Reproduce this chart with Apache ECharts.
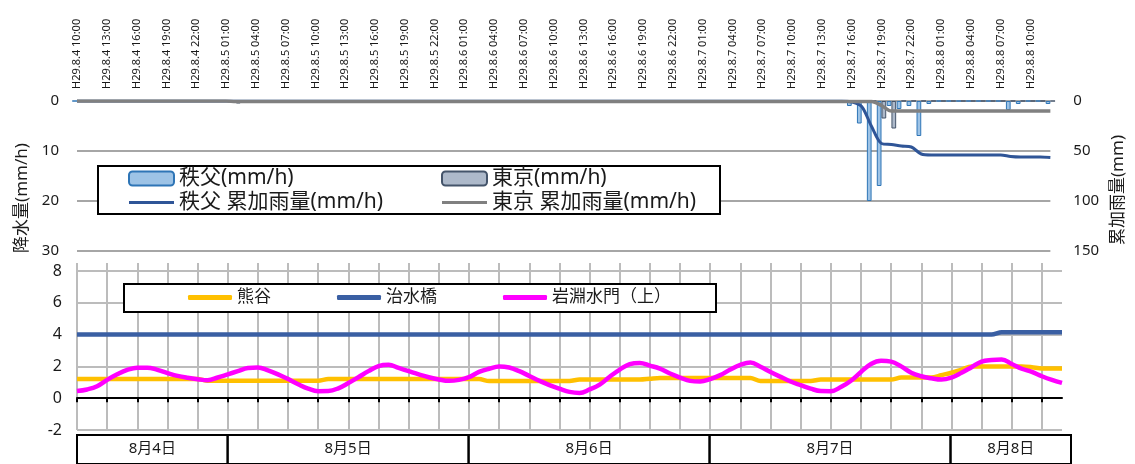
<!DOCTYPE html>
<html>
<head>
<meta charset="utf-8">
<script src="https://cdn.jsdelivr.net/npm/echarts@6/dist/echarts.min.js"></script>
<style>
  html, body { margin: 0; padding: 0; background: #fff; }
  #chart { width: 1135px; height: 464px; }
</style>
</head>
<body>
<div id="chart"></div>
<script>
// ── Categories: hourly, H29.8.4 10:00 → H29.8.8 12:00 ─────────────────
const startDay = 4, startHour = 10, hourCount = 99;
const hours = [];
for (let k = 0; k < hourCount; k++) {
  const t = startHour + k;
  const d = startDay + Math.floor(t / 24);
  hours.push('H29.8.' + d + ' ' + String(t % 24).padStart(2, '0') + ':00');
}

// date boxes under the water level chart (edges in hour index)
const dayLabels = ['8月4日', '8月5日', '8月6日', '8月7日', '8月8日'];
const dayEdges  = [0, 15, 39, 63, 87, 99];

// ── Rainfall (mm/h) ───────────────────────────────────────────────────
const chichibuRain = [
  0,0,0,0,0,0,0,0,0,0,
  0,0,0,0,0,0,0,0,0,0,
  0,0,0,0,0,0,0,0,0,0,
  0,0,0,0,0,0,0,0,0,0,
  0,0,0,0,0,0,0,0,0,0,
  0,0,0,0,0,0,0,0,0,0,
  0,0,0,0,0,0,0,0,0,0,
  0,0,0,0,0,0,0,0,1,4.5,
  20,17,1,1.6,1,7,0.6,0,0,0,
  0,0,0,0,1.8,0.6,0,0,0.6
];
const tokyoRain = [
  0,0,0,0,0,0,0,0,0,0,
  0,0,0,0,0,0,0.5,0,0,0,
  0,0,0,0,0,0,0,0,0,0,
  0,0,0,0,0,0,0,0,0,0,
  0,0,0,0,0,0,0,0,0,0,
  0,0,0,0,0,0,0,0,0,0,
  0,0,0,0,0,0,0,0,0,0,
  0,0,0,0,0,0,0,0,0,0,
  0,3.5,5.5,0,0,0,0,0,0,0,
  0,0,0,0,0,0,0,0,0
];
// cumulative rainfall (mm)
const chichibuCum = [
  0,0,0,0,0,0,0,0,0,0,
  0,0,0,0,0,0,0,0,0,0,
  0,0,0,0,0,0,0,0,0,0,
  0,0,0,0,0,0,0,0,0,0,
  0,0,0,0,0,0,0,0,0,0,
  0,0,0,0,0,0,0,0,0,0,
  0,0,0,0,0,0,0,0,0,0,
  0,0,0,0,0,0,0,0,1,5.5,
  25.5,42.5,43.5,45,46,53,54,54,54,54,
  54,54,54,54,55.5,56,56,56,56.5
];
const tokyoCum = [
  0,0,0,0,0,0,0,0,0,0,
  0,0,0,0,0,0,0.5,0.5,0.5,0.5,
  0.5,0.5,0.5,0.5,0.5,0.5,0.5,0.5,0.5,0.5,
  0.5,0.5,0.5,0.5,0.5,0.5,0.5,0.5,0.5,0.5,
  0.5,0.5,0.5,0.5,0.5,0.5,0.5,0.5,0.5,0.5,
  0.5,0.5,0.5,0.5,0.5,0.5,0.5,0.5,0.5,0.5,
  0.5,0.5,0.5,0.5,0.5,0.5,0.5,0.5,0.5,0.5,
  0.5,0.5,0.5,0.5,0.5,0.5,0.5,0.5,0.5,0.5,
  0.5,4.5,10,10,10,10,10,10,10,10,
  10,10,10,10,10,10,10,10,10
];

// ── Water level (m) ───────────────────────────────────────────────────
const kumagaya = [
  1.2,1.2,1.2,1.2,1.2,1.2,1.2,1.2,1.2,1.2,
  1.2,1.2,1.2,1.1,1.1,1.1,1.1,1.1,1.1,1.1,
  1.1,1.1,1.1,1.1,1.1,1.2,1.2,1.2,1.2,1.2,
  1.2,1.2,1.2,1.2,1.2,1.2,1.2,1.2,1.2,1.2,
  1.2,1.08,1.08,1.08,1.08,1.08,1.08,1.08,1.08,1.08,
  1.17,1.17,1.17,1.17,1.17,1.17,1.17,1.22,1.27,1.27,
  1.27,1.27,1.27,1.27,1.27,1.27,1.27,1.27,1.08,1.08,
  1.08,1.08,1.08,1.08,1.17,1.17,1.17,1.17,1.17,1.17,
  1.17,1.17,1.3,1.3,1.3,1.3,1.45,1.6,1.8,2.0,
  2.0,2.0,2.0,2.0,2.0,1.95,1.87,1.87,1.87
];
const jisuibashi = [
  4,4,4,4,4,4,4,4,4,4,
  4,4,4,4,4,4,4,4,4,4,
  4,4,4,4,4,4,4,4,4,4,
  4,4,4,4,4,4,4,4,4,4,
  4,4,4,4,4,4,4,4,4,4,
  4,4,4,4,4,4,4,4,4,4,
  4,4,4,4,4,4,4,4,4,4,
  4,4,4,4,4,4,4,4,4,4,
  4,4,4,4,4,4,4,4,4,4,
  4,4,4.15,4.15,4.15,4.15,4.15,4.15,4.15
];
const iwabuchi = [
  0.45,0.55,0.75,1.15,1.5,1.78,1.92,1.92,1.78,1.58,
  1.4,1.28,1.19,1.13,1.3,1.5,1.7,1.9,1.93,1.75,
  1.5,1.2,0.88,0.6,0.44,0.45,0.62,0.95,1.32,1.7,
  2.02,2.1,1.9,1.7,1.5,1.32,1.18,1.09,1.15,1.32,
  1.65,1.85,2.0,1.93,1.7,1.4,1.1,0.82,0.6,0.4,
  0.33,0.55,0.85,1.35,1.8,2.14,2.22,2.05,1.86,1.55,
  1.3,1.09,1.05,1.2,1.45,1.8,2.1,2.25,1.98,1.65,
  1.34,1.05,0.82,0.6,0.45,0.44,0.7,1.1,1.65,2.15,
  2.35,2.3,2.0,1.6,1.38,1.25,1.17,1.3,1.6,1.95,
  2.3,2.4,2.43,2.15,1.85,1.65,1.38,1.15,0.96
];

// ── Style ─────────────────────────────────────────────────────────────
const font = "'Noto Sans', 'Noto Sans CJK JP', sans-serif";
const ink = '#1a1a1a';
const gridGray = '#bcbcbc';
// thin line swatch inside a 45x14 legend box (corner specks keep the box size)
const lineIcon = 'path://M0,0 L0.01,0 L0.01,0.01 Z M0,5.5 L45,5.5 L45,8.5 L0,8.5 Z M44.99,13.99 L45,13.99 L45,14 Z';

const chart = echarts.init(document.getElementById('chart'), null, { renderer: 'canvas' });
chart.setOption({
  animation: false,
  textStyle: { fontFamily: font, color: ink },
  grid: [
    { left: 77, right: 73, top: 101, height: 150 },
    { left: 77, right: 73, top: 263, height: 167 },
    { left: 77, right: 64, top: 435, height: 40 }
  ],
  xAxis: [
    {
      gridIndex: 0, type: 'category', data: hours, boundaryGap: false, position: 'top',
      axisLine: { show: false }, axisTick: { show: false },
      axisLabel: { interval: 2, rotate: 90, fontSize: 11, margin: 12, color: ink, fontFamily: font }
    },
    {
      gridIndex: 1, type: 'category', data: hours, boundaryGap: false,
      axisLine: { lineStyle: { color: '#000', width: 2 } },
      axisTick: { interval: 2, length: 4, lineStyle: { color: '#000', width: 2 } },
      axisLabel: { show: false },
      splitLine: { show: true, interval: 2, lineStyle: { color: gridGray, width: 2 } }
    },
    { gridIndex: 2, type: 'value', min: 0, max: 99, show: false }
  ],
  yAxis: [
    {
      gridIndex: 0, type: 'value', min: 0, max: 30, interval: 10, inverse: true,
      name: '降水量(mm/h)', nameLocation: 'middle', nameGap: 44, nameRotate: 90,
      nameTextStyle: { fontSize: 17, color: ink, padding: [0, 44, 0, 0] },
      axisLine: { show: false }, axisTick: { show: false },
      axisLabel: { fontSize: 15, margin: 18, color: ink },
      splitLine: { lineStyle: { color: '#a6a6a6', width: 2 } }
    },
    {
      gridIndex: 0, type: 'value', min: 0, max: 150, interval: 50, inverse: true, position: 'right',
      name: '累加雨量(mm)', nameLocation: 'middle', nameGap: 56, nameRotate: 90,
      nameTruncate: { maxWidth: 400 },
      nameTextStyle: { fontSize: 17, color: ink, padding: [0, 28, 0, 0], overflow: 'none' },
      axisLine: { show: false }, axisTick: { show: false },
      axisLabel: { fontSize: 15, margin: 23, color: ink },
      splitLine: { show: false }
    },
    {
      gridIndex: 1, type: 'value', min: -2, max: 8.5, interval: 2,
      axisLine: { show: false }, axisTick: { show: false },
      axisLabel: { fontSize: 16, margin: 15, color: ink, showMaxLabel: false },
      splitLine: { lineStyle: { color: [gridGray, gridGray, gridGray, gridGray, gridGray, gridGray, 'rgba(0,0,0,0)'], width: 2 } }
    },
    { gridIndex: 2, type: 'value', min: 0, max: 1, show: false }
  ],
  legend: [
    {
      data: [
        { name: '秩父(mm/h)' },
        { name: '秩父 累加雨量(mm/h)', icon: lineIcon, itemStyle: { borderWidth: 0 } }
      ],
      orient: 'vertical', left: 128, top: 168,
      itemWidth: 45, itemHeight: 14, itemGap: 3, padding: 0,
      textStyle: { fontSize: 21, color: ink, fontFamily: font }
    },
    {
      data: [
        { name: '東京(mm/h)' },
        { name: '東京 累加雨量(mm/h)', icon: lineIcon, itemStyle: { borderWidth: 0 } }
      ],
      orient: 'vertical', left: 441, top: 168,
      itemWidth: 45, itemHeight: 14, itemGap: 3, padding: 0,
      textStyle: { fontSize: 21, color: ink, fontFamily: font }
    },
    {
      data: ['熊谷', '治水橋', '岩淵水門（上）'], orient: 'horizontal', left: 188, top: 289,
      icon: 'roundRect', itemWidth: 44, itemHeight: 5, itemGap: 66, padding: 0,
      itemStyle: { borderWidth: 0 },
      textStyle: { fontSize: 17, color: ink, fontFamily: font }
    }
  ],
  graphic: [
    { type: 'rect', z: 3, shape: { x: 98, y: 166, width: 622, height: 48 },
      style: { fill: '#fff', stroke: '#000', lineWidth: 2 } },
    { type: 'rect', z: 3, shape: { x: 124, y: 284, width: 592, height: 28 },
      style: { fill: '#fff', stroke: '#000', lineWidth: 2 } }
  ],
  series: [
    {
      name: '秩父(mm/h)', type: 'bar', xAxisIndex: 0, yAxisIndex: 0, data: chichibuRain,
      barGap: '0%', barCategoryGap: '5%',
      itemStyle: { color: '#9dc3e6', borderColor: '#2e75b6', borderWidth: 1 }
    },
    {
      name: '東京(mm/h)', type: 'bar', xAxisIndex: 0, yAxisIndex: 0, data: tokyoRain,
      itemStyle: { color: '#adb9ca', borderColor: '#44546a', borderWidth: 1 }
    },
    {
      name: '秩父 累加雨量(mm/h)', type: 'line', xAxisIndex: 0, yAxisIndex: 1, data: chichibuCum,
      symbol: 'none', smooth: 0.3, z: 3,
      lineStyle: { color: '#2f5597', width: 3 }, itemStyle: { color: '#2f5597' }
    },
    {
      name: '東京 累加雨量(mm/h)', type: 'line', xAxisIndex: 0, yAxisIndex: 1, data: tokyoCum,
      symbol: 'none', smooth: 0.3, z: 4,
      lineStyle: { color: '#808080', width: 3.5 }, itemStyle: { color: '#808080' }
    },
    {
      name: '熊谷', type: 'line', xAxisIndex: 1, yAxisIndex: 2, data: kumagaya,
      symbol: 'none', smooth: 0.3,
      lineStyle: { color: '#ffc000', width: 4.5 }, itemStyle: { color: '#ffc000' }
    },
    {
      name: '治水橋', type: 'line', xAxisIndex: 1, yAxisIndex: 2, data: jisuibashi,
      symbol: 'none', smooth: 0.3,
      lineStyle: { color: '#3a5fa3', width: 4.5 }, itemStyle: { color: '#3a5fa3' }
    },
    {
      name: '岩淵水門（上）', type: 'line', xAxisIndex: 1, yAxisIndex: 2, data: iwabuchi,
      symbol: 'none', smooth: 0.4,
      lineStyle: { color: '#ff00ff', width: 4.5 }, itemStyle: { color: '#ff00ff' }
    },
    {
      type: 'custom', xAxisIndex: 2, yAxisIndex: 3, silent: true,
      data: dayLabels.map((label, k) => [dayEdges[k], dayEdges[k + 1]]),
      renderItem: (params, api) => {
        const a = api.coord([api.value(0), 1]);
        const b = api.coord([api.value(1), 0]);
        return {
          type: 'group',
          children: [
            { type: 'rect', shape: { x: a[0], y: a[1], width: b[0] - a[0], height: b[1] - a[1] },
              style: { fill: 'none', stroke: '#000', lineWidth: 2 } },
            { type: 'text', x: (a[0] + b[0]) / 2, y: a[1] + 14,
              style: { text: dayLabels[params.dataIndex], fill: ink, font: '15px ' + font,
                       align: 'center', verticalAlign: 'middle' } }
          ]
        };
      }
    }
  ]
});
</script>
</body>
</html>
